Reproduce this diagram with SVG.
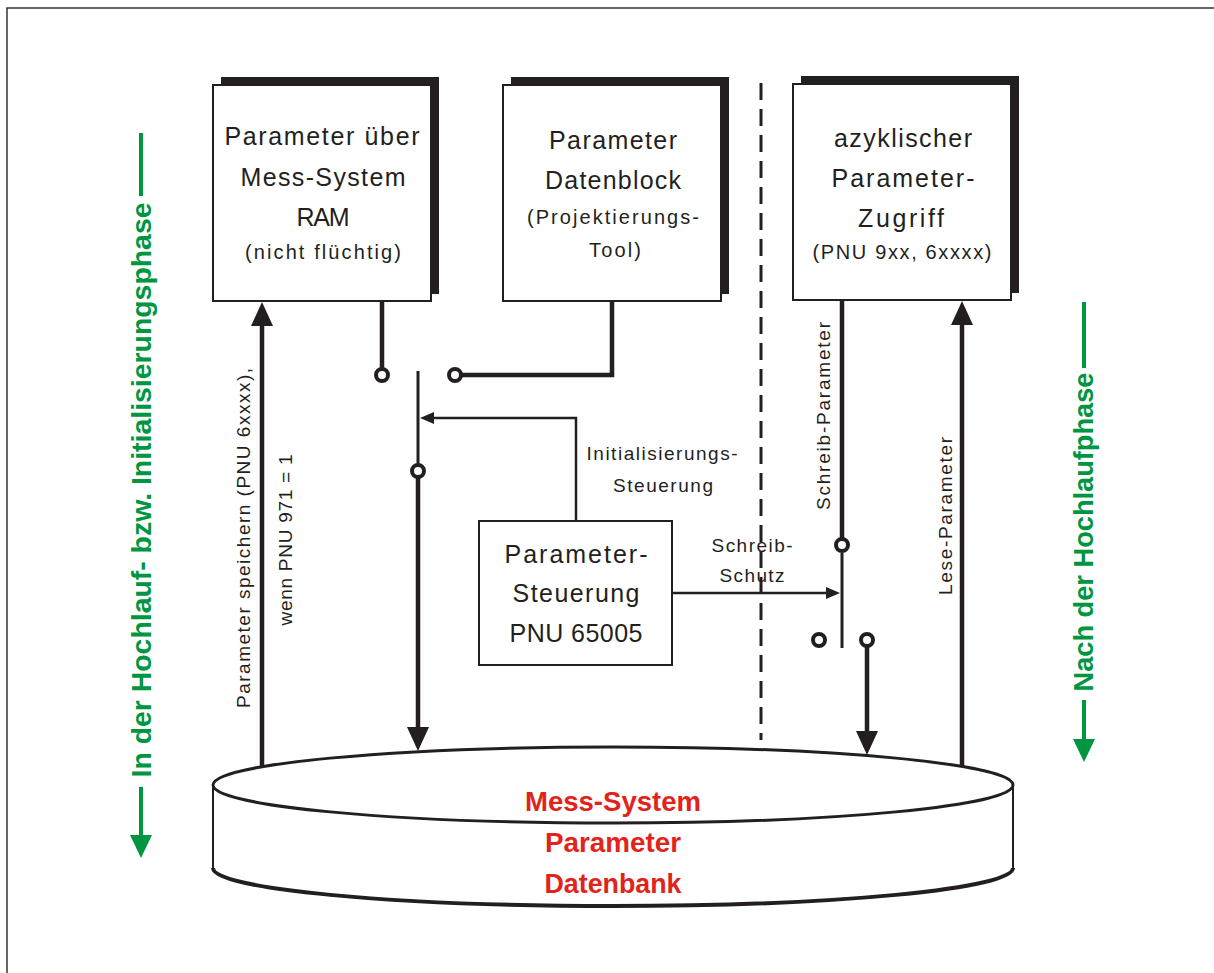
<svg xmlns="http://www.w3.org/2000/svg" width="1214" height="973" viewBox="0 0 1214 973">
<defs>
<style>
.box{fill:#fff;stroke:#231f20;stroke-width:2}
.shadow{fill:#231f20}
.t{font-family:"Liberation Sans",Arial,sans-serif;fill:#231f20;text-anchor:middle}
.big{font-size:25px}
.small{font-size:20px}
.lab{font-size:19px}
.green{font-family:"Liberation Sans",Arial,sans-serif;font-weight:bold;font-size:27px;fill:#00963f;text-anchor:middle}
.red{font-family:"Liberation Sans",Arial,sans-serif;font-weight:bold;font-size:27px;fill:#e2231a;text-anchor:middle}
.thick{fill:none;stroke:#231f20;stroke-width:4.5}
.blade{fill:none;stroke:#231f20;stroke-width:3}
.thin{fill:none;stroke:#231f20;stroke-width:2.5}
.pin{fill:#fff;stroke:#231f20;stroke-width:4}
.head{fill:#231f20}
.gline{fill:none;stroke:#00963f;stroke-width:4}
.ghead{fill:#00963f}
</style>
</defs>
<rect x="0" y="0" width="1214" height="973" fill="#fff"/>
<path d="M7,973 V8 H1214" fill="none" stroke="#333" stroke-width="1.5"/>

<g id="node-ram">
<rect class="shadow" x="221" y="77" width="218" height="217"/>
<rect class="box" x="213" y="85" width="218" height="216"/>
<text class="t big" x="322" y="145" textLength="195" lengthAdjust="spacing">Parameter über</text>
<text class="t big" x="323" y="186" textLength="165" lengthAdjust="spacing">Mess-System</text>
<text class="t big" x="323" y="226" textLength="53" lengthAdjust="spacing">RAM</text>
<text class="t small" x="323" y="259" textLength="156" lengthAdjust="spacing">(nicht flüchtig)</text>
</g>

<g id="node-datenblock">
<rect class="shadow" x="511" y="77" width="218" height="217"/>
<rect class="box" x="503" y="85" width="218" height="216"/>
<text class="t big" x="613" y="149" textLength="128" lengthAdjust="spacing">Parameter</text>
<text class="t big" x="613" y="189" textLength="136" lengthAdjust="spacing">Datenblock</text>
<text class="t small" x="613" y="224" textLength="172" lengthAdjust="spacing">(Projektierungs-</text>
<text class="t small" x="615" y="257" textLength="52" lengthAdjust="spacing">Tool)</text>
</g>

<g id="node-azyklisch">
<rect class="shadow" x="801" y="76" width="218" height="217"/>
<rect class="box" x="793" y="84" width="218" height="216"/>
<text class="t big" x="903" y="147" textLength="138" lengthAdjust="spacing">azyklischer</text>
<text class="t big" x="903" y="187" textLength="143" lengthAdjust="spacing">Parameter-</text>
<text class="t big" x="901" y="227" textLength="86" lengthAdjust="spacing">Zugriff</text>
<text class="t small" x="902" y="259" textLength="179" lengthAdjust="spacing">(PNU 9xx, 6xxxx)</text>
</g>

<g id="node-steuerung">
<rect class="box" x="479" y="521" width="193" height="144"/>
<text class="t big" x="576" y="563" textLength="143" lengthAdjust="spacing">Parameter-</text>
<text class="t big" x="576" y="602" textLength="127" lengthAdjust="spacing">Steuerung</text>
<text class="t big" x="576" y="642" textLength="133" lengthAdjust="spacing">PNU 65005</text>
</g>

<g id="node-datenbank">
<path d="M213,785 V868 A400,38 0 0 0 1013,868 V785" fill="#fff" stroke="#231f20" stroke-width="2"/>
<path d="M213,868 A400,38 0 0 0 1013,868" fill="none" stroke="#231f20" stroke-width="4"/>
<ellipse cx="613" cy="785" rx="400" ry="38" fill="#fff" stroke="#231f20" stroke-width="3"/>
<text class="red" x="613" y="811" textLength="176" lengthAdjust="spacingAndGlyphs">Mess-System</text>
<text class="red" x="613" y="852" textLength="136" lengthAdjust="spacingAndGlyphs">Parameter</text>
<text class="red" x="613" y="893" textLength="137" lengthAdjust="spacingAndGlyphs">Datenbank</text>
</g>

<g id="connectors">
<!-- left upward arrow: Parameter speichern -->
<line class="thick" x1="262" y1="766" x2="262" y2="322"/>
<polygon class="head" points="262,302 251,326 273,326"/>
<!-- RAM to switch contact -->
<line class="thick" x1="382" y1="301" x2="382" y2="369"/>
<!-- Datenblock to switch contact -->
<polyline class="thick" points="612,301 612,375 461,375"/>
<!-- switch blade -->
<line class="blade" x1="418" y1="371" x2="418" y2="466"/>
<!-- switch output down to database -->
<line class="thick" x1="418" y1="476" x2="418" y2="730"/>
<polygon class="head" points="418,751 407,727 429,727"/>
<!-- Initialisierungs-Steuerung -->
<polyline class="thin" points="576,521 576,418 432,418"/>
<polygon class="head" points="420,418 434,412 434,424"/>
<!-- Schreib-Schutz -->
<line class="thin" x1="672" y1="593" x2="826" y2="593"/>
<polygon class="head" points="840,593 826,587 826,599"/>
<!-- dashed separator -->
<line x1="761" y1="83" x2="761" y2="740" stroke="#231f20" stroke-width="3" stroke-dasharray="17,9"/>
<!-- Schreib-Parameter -->
<line class="thick" x1="842" y1="300" x2="842" y2="539"/>
<line class="blade" x1="842" y1="553" x2="842" y2="648"/>
<line class="thick" x1="867" y1="646" x2="867" y2="734"/>
<polygon class="head" points="867,755 856,731 878,731"/>
<!-- Lese-Parameter -->
<line class="thick" x1="962" y1="766" x2="962" y2="322"/>
<polygon class="head" points="962,301 951,325 973,325"/>
<!-- contact circles -->
<circle class="pin" cx="382" cy="375" r="6"/>
<circle class="pin" cx="455" cy="375" r="6"/>
<circle class="pin" cx="418" cy="471" r="6"/>
<circle class="pin" cx="842" cy="545" r="6"/>
<circle class="pin" cx="819" cy="640" r="6"/>
<circle class="pin" cx="867" cy="640" r="6"/>
<!-- green phase arrows -->
<line class="gline" x1="141" y1="133" x2="141" y2="196"/>
<line class="gline" x1="141" y1="787" x2="141" y2="838"/>
<polygon class="ghead" points="141,858 130,835 152,835"/>
<line class="gline" x1="1084" y1="302" x2="1084" y2="368"/>
<line class="gline" x1="1084" y1="700" x2="1084" y2="742"/>
<polygon class="ghead" points="1084,762 1073,739 1095,739"/>
</g>

<g id="labels">
<text class="t lab" x="662" y="460" textLength="151" lengthAdjust="spacing">Initialisierungs-</text>
<text class="t lab" x="663" y="492" textLength="100" lengthAdjust="spacing">Steuerung</text>
<text class="t lab" x="752" y="552" textLength="81" lengthAdjust="spacing">Schreib-</text>
<text class="t lab" x="752" y="582" textLength="65" lengthAdjust="spacing">Schutz</text>
<text class="t lab" transform="translate(830,416) rotate(-90)" textLength="188" lengthAdjust="spacing">Schreib-Parameter</text>
<text class="t lab" transform="translate(952,516) rotate(-90)" textLength="158" lengthAdjust="spacing">Lese-Parameter</text>
<text class="t lab" transform="translate(250,538) rotate(-90)" textLength="340" lengthAdjust="spacing">Parameter speichern (PNU 6xxxx),</text>
<text class="t lab" transform="translate(292,540) rotate(-90)" textLength="171" lengthAdjust="spacing">wenn PNU 971 = 1</text>
<text class="green" transform="translate(151,490) rotate(-90)" textLength="575" lengthAdjust="spacingAndGlyphs">In der Hochlauf- bzw. Initialisierungsphase</text>
<text class="green" transform="translate(1093,532) rotate(-90)" textLength="319" lengthAdjust="spacingAndGlyphs">Nach der Hochlaufphase</text>
</g>
</svg>
